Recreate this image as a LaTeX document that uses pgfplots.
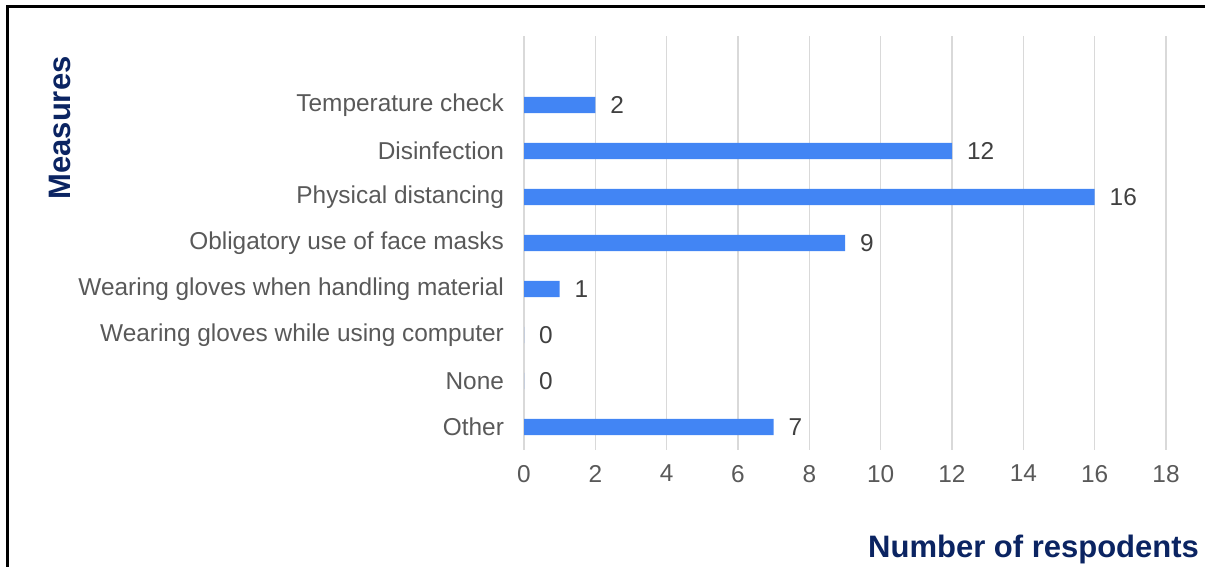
\documentclass[border=0pt]{standalone}
\usepackage{pgfplots}
\pgfplotsset{compat=1.18}
\usepackage{fontspec}
\setmainfont{Liberation Sans}
\definecolor{barblue}{HTML}{4285F4}
\definecolor{gridgray}{HTML}{D9D9D9}
\definecolor{ticklab}{HTML}{595959}
\definecolor{vallab}{HTML}{404040}
\definecolor{navy}{HTML}{0B2462}
\begin{document}
\begin{tikzpicture}[x=1pt,y=1pt]
\path[use as bounding box] (0,0) rectangle (602.5,283.5);
\draw[line width=1.5pt] (3.5,-2) -- (3.5,280) -- (610,280);
\begin{axis}[
  at={(262pt,58.5pt)}, anchor=south west,
  scale only axis, width=321pt, height=207pt,
  xbar, bar width=8.2pt,
  xmin=0, xmax=18, xtick={0,2,...,18},
  ymin=-0.5, ymax=8.5,
  ytick={0,...,7},
  yticklabels={Other,None,Wearing gloves while using computer,Wearing gloves when handling material,Obligatory use of face masks,Physical distancing,Disinfection,Temperature check},
  axis line style={draw=none},
  major tick length=0pt,
  xmajorgrids, grid style={gridgray, line width=0.6pt},
  /pgf/number format/assume math mode=true,
  tick label style={font=\fontsize{12.2}{14}\selectfont, text=ticklab},
  xticklabel style={yshift=-4pt},
  yticklabel style={xshift=-6.5pt},
  nodes near coords,
  every node near coord/.append style={font=\fontsize{12.2}{14}\selectfont, text=vallab, xshift=4pt},
  clip=false,
]
\addplot[fill=barblue, draw=none] coordinates {
(7,0) (0,1) (0,2) (1,3) (9,4) (16,5) (12,6) (2,7)
};
\end{axis}
\node[rotate=90, font=\bfseries\fontsize{15.5}{18}\selectfont, text=navy] at (30,219.5) {Measures};
\node[anchor=east, font=\bfseries\fontsize{15.5}{18}\selectfont, text=navy] at (603,9) {Number of respodents};
\end{tikzpicture}
\end{document}
